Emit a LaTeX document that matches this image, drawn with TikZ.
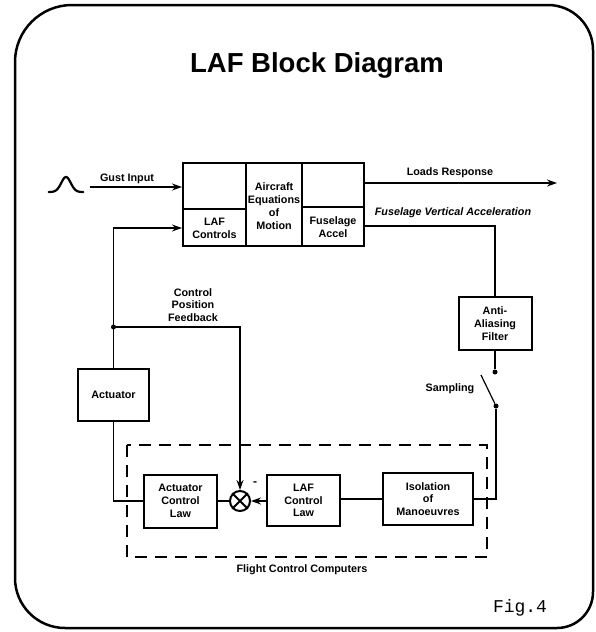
\documentclass[tikz,border=0pt]{standalone}
\usepackage{fontspec}
\setmainfont{Liberation Sans}
\newfontfamily\figfont{Liberation Mono}
\usetikzlibrary{arrows.meta}
\newcommand\lblfont{\fontsize{10.8}{12.8}\selectfont\bfseries}
\begin{document}
\begin{tikzpicture}[x=1pt,y=-1pt,
  blk/.style={draw, line width=2pt, inner sep=0pt, align=center, font=\lblfont},
  lbl/.style={inner sep=0pt, align=center, font=\lblfont},
  conn/.style={line width=1.2pt},
  arr/.style={conn, -{Stealth[length=10pt,width=7pt]}},
  dotted point/.style={circle, fill, inner sep=0pt, minimum size=5pt}]
\useasboundingbox (0,0) rectangle (595,632);
% outer frame
\draw[line width=2.5pt] (15,320) [rounded corners=57pt] |- (300,5)
  [rounded corners=45pt] -| (593,320)
  [rounded corners=36pt] |- (300,628)
  [rounded corners=50pt] -| (15,320) -- cycle;
% title
\node[inner sep=0pt, anchor=base, font=\fontsize{27.5}{30}\selectfont\bfseries] (title) at (317,72) {LAF Block Diagram};
% main plant block
\node[draw, line width=2pt, minimum width=181pt, minimum height=83pt, inner sep=0pt] (plant) at (273.5,204.5) {};
\draw[line width=1.5pt] (246,163) -- (246,246) (302,163) -- (302,246)
  (183,209) -- (246,209) (302,207) -- (364,207);
\node[lbl] (lafc) at (214.5,228) {LAF\\Controls};
\node[lbl] (eom) at (274,206) {Aircraft\\Equations\\of\\Motion};
\node[lbl] (fa) at (333,227) {Fuselage\\Accel};
% gust input
\draw[line width=2.2pt, line cap=round] plot[domain=-1.15:1.15, samples=47] ({66+15*\x},{192-15*exp(-5*\x*\x)});
\coordinate (gs) at (90,187);
\draw[arr] (gs) -- (gs -| plant.west);
\node[lbl] (gustlbl) at (127,179) {Gust Input};
% loads response
\coordinate (lr) at (557,183);
\draw[arr] (lr -| plant.east) -- (lr);
\node[lbl] (lrlbl) at (450,173) {Loads Response};
% fuselage vertical acceleration
\coordinate (fva) at (495,226);
\node[lbl, font=\lblfont\itshape] (fvalbl) at (453,213) {Fuselage Vertical Acceleration};
% anti-aliasing filter
\node[blk, minimum width=73pt, minimum height=53pt] (aaf) at (495,323.5) {Anti-\\Aliasing\\Filter};
\draw[conn] (fva -| plant.east) -- (fva) -- (aaf.north);
% sampling switch
\node[dotted point] (sw1) at (495,372) {};
\node[dotted point] (sw2) at (496,406) {};
\coordinate (blade) at (481,375);
\draw[conn] (aaf.south) -- (sw1);
\draw[conn] (blade) -- (sw2);
\node[lbl] (samp) at (450,389) {Sampling};
% lower loop
\node[blk, minimum width=71pt, minimum height=52pt] (act) at (113.5,395) {Actuator};
\node[blk, minimum width=73pt, minimum height=53pt] (acl) at (180.5,501) {Actuator\\Control\\Law};
\node[draw, circle, line width=2pt, minimum size=20pt, inner sep=0pt] (sum) at (240,501) {};
\draw[line width=2pt] (sum.north west) -- (sum.south east) (sum.north east) -- (sum.south west);
\node[blk, minimum width=73pt, minimum height=51pt] (lcl) at (303.5,500.5) {LAF\\Control\\Law};
\node[blk, minimum width=90pt, minimum height=52pt] (iso) at (428,499) {Isolation\\of\\Manoeuvres};
\node[lbl, font=\fontsize{12}{12}\selectfont\bfseries] (minus) at (255,484) {-};
% connectors
\node[dotted point] (jd) at (113.5,327) {};
\draw[arr] (act.north) -- (jd.center) |- (lafc -| plant.west);
\draw[arr] (jd.center) -| (sum.north);
\node[lbl] (cpf) at (193,305) {Control\\Position\\Feedback};
\draw[conn] (sw2) |- (iso.east);
\draw[conn] (iso.west) -- (iso.west -| lcl.east);
\draw[arr] (lcl.west |- sum.east) -- (sum.east);
\draw[conn] (sum.west) -- (acl.east |- sum.west);
\draw[conn] (acl.west) -| (act.south);
% flight control computers
\draw[line width=1.5pt, dash pattern=on 12pt off 8pt] (127,445) rectangle (487,557);
\node[lbl] (fcc) at (302,570) {Flight Control Computers};
% figure number
\node[inner sep=0pt, font=\figfont\fontsize{18}{20}\selectfont] (fig) at (520,608) {Fig.4};
\end{tikzpicture}
\end{document}
